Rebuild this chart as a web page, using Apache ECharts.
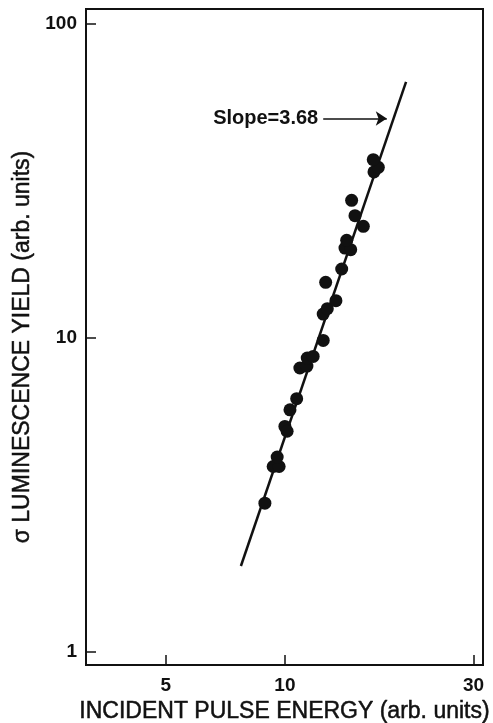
<!DOCTYPE html>
<html><head><meta charset="utf-8">
<script src="https://cdn.jsdelivr.net/npm/echarts@6/dist/echarts.min.js"></script>
<style>html,body{margin:0;padding:0;background:#fff}#c{width:493px;height:723px}</style>
</head><body><div id="c"></div>
<script>
// Measured data (arb. units)
const energy = [8.90, 9.34, 9.67, 9.56, 10.00, 10.13, 10.30, 10.71, 10.91, 11.37, 11.39, 11.79, 12.50, 12.50, 12.80, 13.46, 12.68, 13.92, 14.19, 14.67, 14.33, 15.79, 15.04, 14.75, 16.80, 17.23, 16.73];
const luminescence = [2.98, 3.90, 3.90, 4.18, 5.23, 5.05, 5.91, 6.41, 8.03, 8.14, 8.64, 8.74, 9.83, 11.92, 12.40, 13.15, 15.05, 16.59, 19.34, 19.11, 20.47, 22.68, 24.52, 27.45, 33.79, 34.97, 36.97];
// Fitted line end points
const fitX = [7.74, 20.25];
const fitY = [1.88, 65.4];
// Tick labels
const xTicks = [5, 10, 30];
const yTicks = [1, 10, 100];
// Axis extents
const xRange = [3.14, 31.7];
const yRange = [0.91, 111.6];
// Annotation
const arrowX = [12.5, 18.1];
const arrowY = [50, 50];
const slopeText = 'Slope=3.68';

const L = Math.log10;
const pts = energy.map((x, i) => [L(x), L(luminescence[i])]);
const fit = fitX.map((x, i) => [L(x), L(fitY[i])]);
const FONT = 'Liberation Sans';
const fmt = v => String(Math.round(Math.pow(10, v)));
const titleStyle = {fontFamily: FONT, fontSize: 23, color: '#111', textBorderColor: '#111', textBorderWidth: 0.5};

const chart = echarts.init(document.getElementById('c'), null, {renderer: 'canvas'});
chart.setOption({
  animation: false,
  backgroundColor: '#fff',
  grid: {left: 86, right: 10, top: 9, bottom: 58, show: true, borderColor: '#111', borderWidth: 2, backgroundColor: 'transparent', containLabel: false, outerBoundsMode: 'none'},
  xAxis: {
    type: 'value', min: L(xRange[0]), max: L(xRange[1]),
    name: 'INCIDENT PULSE ENERGY (arb. units)', nameLocation: 'middle', nameGap: 31,
    nameTextStyle: titleStyle,
    axisLine: {show: true, onZero: false, lineStyle: {color: '#111', width: 2}},
    axisTick: {show: true, inside: true, length: 10, lineStyle: {color: '#111', width: 1.5}, customValues: xTicks.map(L)},
    axisLabel: {fontFamily: FONT, fontSize: 19, fontWeight: 'bold', color: '#111', margin: 11, customValues: xTicks.map(L), formatter: fmt},
    splitLine: {show: false}
  },
  yAxis: {
    type: 'value', min: L(yRange[0]), max: L(yRange[1]),
    name: 'σ LUMINESCENCE YIELD (arb. units)', nameLocation: 'middle', nameGap: 39,
    nameTextStyle: Object.assign({padding: [0, 20, 0, 0]}, titleStyle),
    axisLine: {show: true, onZero: false, lineStyle: {color: '#111', width: 2}},
    axisTick: {show: true, inside: true, length: 10, lineStyle: {color: '#111', width: 1.5}, customValues: yTicks.map(L)},
    axisLabel: {fontFamily: FONT, fontSize: 19, fontWeight: 'bold', color: '#111', margin: 9, customValues: yTicks.map(L), formatter: fmt},
    splitLine: {show: false}
  },
  series: [
    {
      type: 'line', data: fit, symbol: 'none', lineStyle: {color: '#111', width: 2.5}, z: 2,
      markLine: {
        silent: true, symbol: ['none', 'arrow'], symbolSize: 11,
        lineStyle: {color: '#111', width: 1.5, type: 'solid'},
        label: {show: true, position: 'start', formatter: slopeText, fontFamily: FONT, fontSize: 20, fontWeight: 'bold', color: '#111', distance: 5},
        data: [[{coord: [L(arrowX[0]), L(arrowY[0])]}, {coord: [L(arrowX[1]), L(arrowY[1])]}]]
      }
    },
    {type: 'scatter', data: pts, symbol: 'circle', symbolSize: 13, itemStyle: {color: '#111', opacity: 1}, z: 3}
  ]
});
</script></body></html>
